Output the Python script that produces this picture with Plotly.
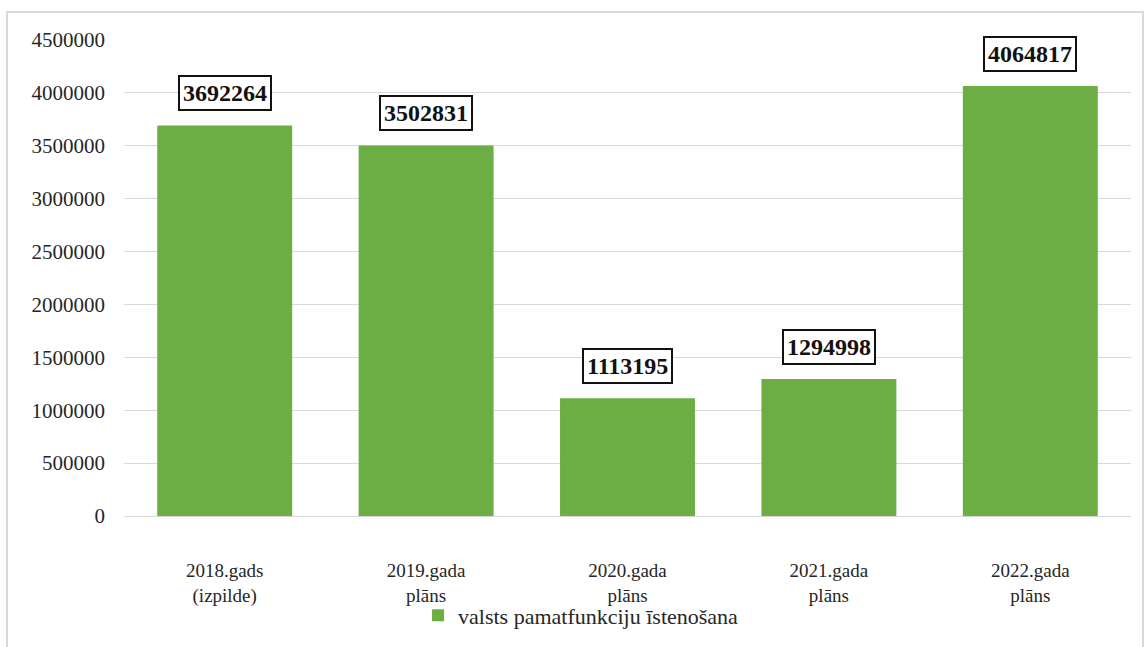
import plotly.graph_objects as go

categories = ["2018.gads<br>(izpilde)", "2019.gada<br>plāns", "2020.gada<br>plāns", "2021.gada<br>plāns", "2022.gada<br>plāns"]
values = [3692264, 3502831, 1113195, 1294998, 4064817]
series_name = "valsts pamatfunkciju īstenošana"
tick_vals = [0, 500000, 1000000, 1500000, 2000000, 2500000, 3000000, 3500000, 4000000, 4500000]

serif = "Liberation Serif"
green = "#6cad44"

fig = go.Figure()
fig.add_trace(go.Bar(
    x=categories, y=values, name=series_name,
    marker=dict(color=green, line=dict(width=0)),
    width=0.67, showlegend=True,
))

for c, v in zip(categories, values):
    fig.add_annotation(
        x=c, y=v, text=f"<b>{v}</b>", showarrow=False,
        yshift=32,
        font=dict(family=serif, size=24, color="#111111"),
        bordercolor="#111111", borderwidth=2, borderpad=3,
        bgcolor="white",
    )

fig.add_shape(type="rect", xref="paper", yref="paper",
              x0=-0.1162, x1=1.0119, y0=-0.3, y1=1.0588,
              line=dict(color="#d9d9d9", width=2), layer="below")

fig.update_layout(
    width=1146, height=647,
    margin=dict(l=124, r=15, t=40, b=131, autoexpand=False),
    paper_bgcolor="white", plot_bgcolor="white",
    font=dict(family=serif, size=19, color="#262626"),
    bargap=0.33,
    xaxis=dict(showgrid=False, showline=True, linecolor="#d9d9d9", linewidth=1,
               ticks="", ticklabelstandoff=37, automargin=False,
               tickfont=dict(family=serif, size=19, color="#262626")),
    yaxis=dict(range=[0, 4500000], tickvals=tick_vals, ticktext=[str(t) for t in tick_vals],
               showgrid=True, gridcolor="#d9d9d9", gridwidth=1, zeroline=False,
               showline=False, ticks="", ticklabelstandoff=18, automargin=False,
               tickfont=dict(family=serif, size=21, color="#262626")),
    legend=dict(orientation="h", x=0.292, xanchor="left", y=-0.165, yanchor="top",
                bgcolor="rgba(0,0,0,0)",
                font=dict(family=serif, size=22, color="#262626"),
                itemwidth=30),
)

fig.write_html("out.html", config={"displayModeBar": False},
               post_script="document.body.style.margin='0';document.body.style.overflow='hidden';")
